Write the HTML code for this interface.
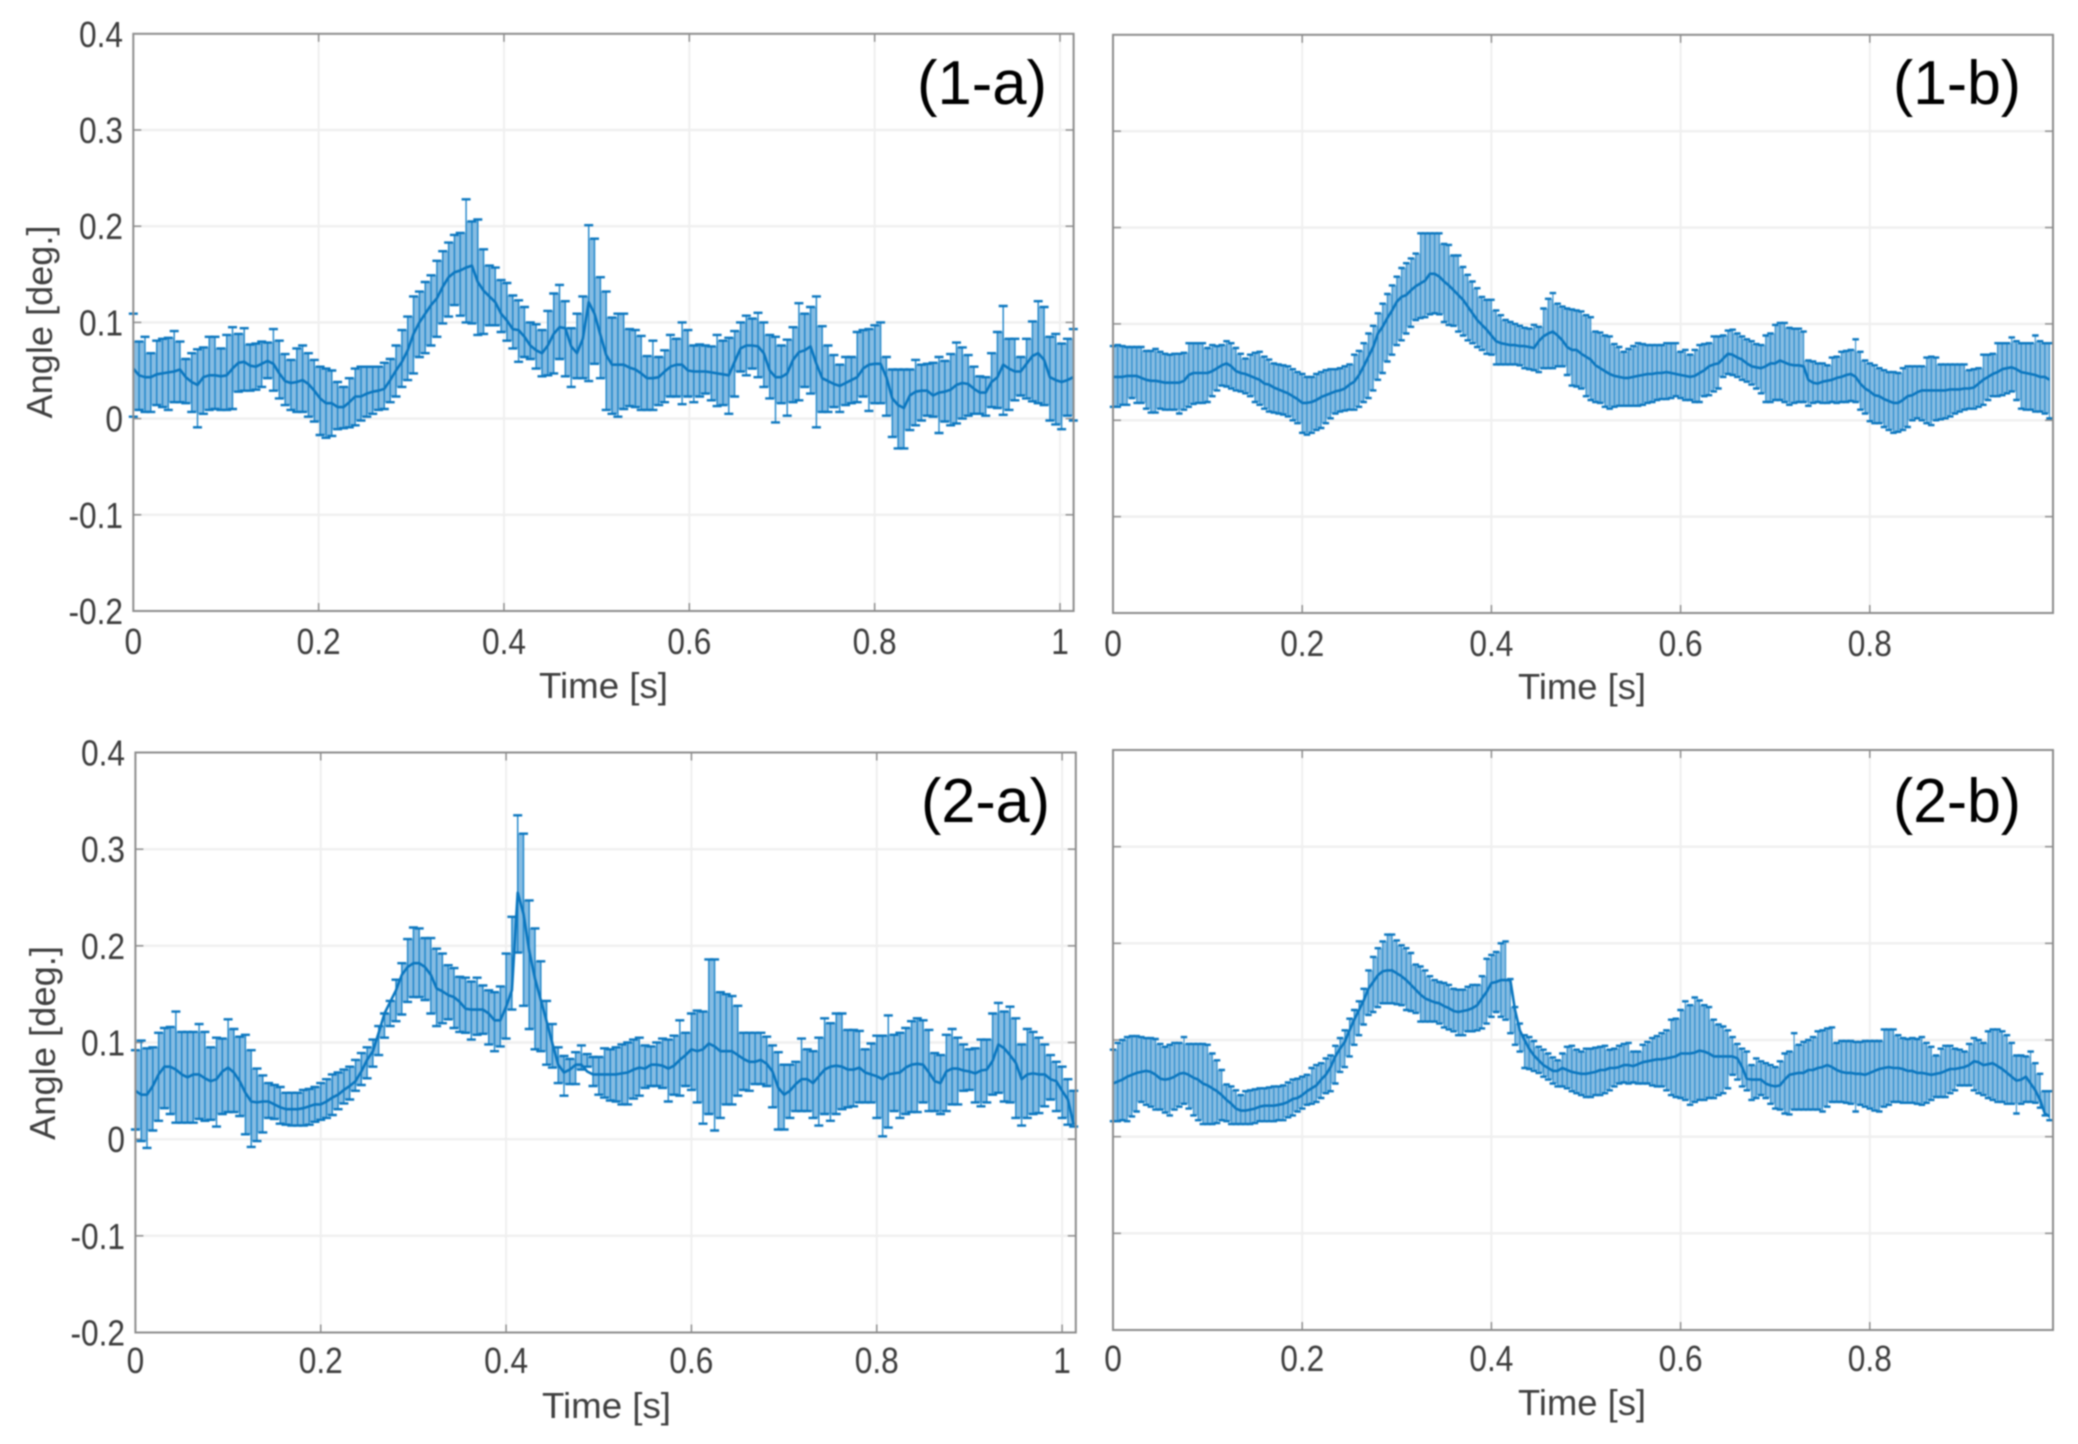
<!DOCTYPE html>
<html lang="en">
<head>
<meta charset="utf-8">
<title>Angle versus time error-bar charts</title>
<style>
html,body{margin:0;padding:0;background:#fff;}
body{width:2078px;height:1444px;overflow:hidden;}
#figure{display:block;filter:blur(0.7px);}
text{font-family:"Liberation Sans",Arial,sans-serif;}
.tick-label{font-size:36px;fill:#3c3c3c;}
.axis-title{font-size:36px;fill:#3f3f3f;}
.panel-label{font-size:62px;fill:#000;}
</style>
</head>
<body>
<svg id="figure" xmlns="http://www.w3.org/2000/svg" width="2078" height="1444" viewBox="0 0 2078 1444">
  <rect x="0" y="0" width="2078" height="1444" fill="#fff"/>
  <g id="plots"></g>
  <text class="panel-label" x="917" y="104" textLength="130" lengthAdjust="spacingAndGlyphs">(1-a)</text>
  <text class="panel-label" x="1893" y="104" textLength="128" lengthAdjust="spacingAndGlyphs">(1-b)</text>
  <text class="panel-label" x="921" y="822" textLength="129" lengthAdjust="spacingAndGlyphs">(2-a)</text>
  <text class="panel-label" x="1893" y="822" textLength="128" lengthAdjust="spacingAndGlyphs">(2-b)</text>
  <text class="axis-title" x="539" y="698" textLength="129" lengthAdjust="spacingAndGlyphs">Time [s]</text>
  <text class="axis-title" x="1518" y="699" textLength="128" lengthAdjust="spacingAndGlyphs">Time [s]</text>
  <text class="axis-title" x="542" y="1418" textLength="129" lengthAdjust="spacingAndGlyphs">Time [s]</text>
  <text class="axis-title" x="1518" y="1415" textLength="128" lengthAdjust="spacingAndGlyphs">Time [s]</text>
  <text class="axis-title" transform="translate(52,322) rotate(-90)" text-anchor="middle" textLength="193" lengthAdjust="spacingAndGlyphs">Angle [deg.]</text>
  <text class="axis-title" transform="translate(55,1043) rotate(-90)" text-anchor="middle" textLength="194" lengthAdjust="spacingAndGlyphs">Angle [deg.]</text>
</svg>
<script>
// All series values are angles in thousandths of a degree.
const yTickLabels = ['0.4','0.3','0.2','0.1','0','-0.1','-0.2'];
const xTickLabelsA = ['0','0.2','0.4','0.6','0.8','1'];
const xTickLabelsB = ['0','0.2','0.4','0.6','0.8'];

const sampleStepA1 = 0.0063;
const sampleStepA2 = 0.00625;
const sampleStepB = 0.005;

const upper1a = [109,80,85,68,81,83,84,91,80,62,68,72,74,85,85,73,87,95,88,94,77,78,80,79,93,81,67,61,73,76,68,61,54,52,50,38,33,42,52,54,54,54,54,58,62,76,92,106,127,132,142,149,164,174,183,191,193,228,205,207,176,159,157,144,141,128,123,116,100,98,92,112,130,139,122,94,109,127,201,187,147,
132,105,109,109,93,92,86,65,81,64,71,87,83,100,92,76,77,76,75,87,81,84,91,100,107,104,110,100,87,85,76,82,95,120,109,116,127,96,76,66,56,64,64,90,92,93,97,100,64,51,51,51,51,61,56,57,58,64,60,67,79,74,66,54,44,43,68,90,117,83,83,64,83,101,122,116,85,88,78,83,93];
const mean1a = [52,45,43,43,46,47,48,49,51,43,38,35,43,45,45,44,45,52,58,59,55,54,57,60,57,47,39,37,38,40,36,29,21,16,16,12,12,17,23,23,26,28,29,31,40,50,59,71,88,100,109,118,125,137,147,152,154,157,159,142,133,127,121,109,102,93,92,85,76,71,68,76,88,95,94,75,68,83,121,109,87,
66,56,56,56,53,51,47,42,42,43,49,54,56,56,50,49,49,49,48,47,46,45,59,73,76,76,75,68,50,43,43,47,61,69,71,75,57,42,39,36,34,37,40,43,52,56,57,57,43,21,14,11,24,28,29,29,24,27,28,30,35,37,36,31,27,27,38,43,56,52,49,49,57,65,68,61,43,40,38,40,43];
const lower1a = [2,9,7,7,14,12,9,17,17,16,7,-9,5,9,10,9,9,10,28,29,29,30,33,42,29,21,14,9,7,7,2,-3,-17,-20,-18,-11,-10,-9,-7,-2,2,5,9,10,17,23,33,40,47,64,68,76,85,99,106,118,107,100,99,87,88,97,97,90,81,73,59,64,62,52,44,45,47,62,44,33,42,42,39,57,42,
9,5,2,10,13,12,9,9,9,14,17,23,23,15,23,17,23,26,19,13,14,5,23,49,45,52,43,33,21,-4,16,3,17,19,33,26,-9,7,7,12,7,14,16,17,23,8,16,16,3,-19,-31,-31,-12,-7,-2,3,2,-15,-3,-7,-5,0,3,5,5,3,12,11,4,9,19,24,21,18,16,14,-2,-6,-11,3,-2];

const upper1b = [77,78,77,76,76,76,76,72,72,74,71,69,68,69,69,70,80,80,80,80,75,78,77,78,82,80,75,69,64,68,70,71,66,63,59,58,57,56,53,50,48,45,45,48,50,52,53,53,54,56,58,68,72,80,90,98,111,121,131,140,149,158,163,168,173,194,194,194,194,194,183,182,171,171,159,151,144,137,128,125,125,114,109,104,102,100,98,96,95,99,97,116,126,132,121,118,116,115,114,113,109,107,92,91,88,87,79,76,71,74,77,80,79,78,78,78,78,80,80,80,71,73,68,73,78,79,80,87,87,88,93,94,90,87,84,82,79,78,88,90,99,101,101,96,95,95,92,62,61,59,59,57,65,66,71,72,73,84,71,62,59,57,54,52,50,50,49,54,56,56,56,56,65,66,65,58,58,58,58,58,58,52,53,54,68,68,69,80,80,80,86,82,80,80,80,88,82,80,80];
const mean1b = [45,45,45,46,46,46,44,42,41,41,40,39,39,39,39,41,47,49,49,49,49,51,54,57,59,56,51,49,48,46,44,42,38,37,34,32,30,28,25,22,18,18,19,21,24,26,28,30,31,33,37,40,47,56,66,76,90,97,106,114,123,128,130,135,139,142,145,152,152,149,144,140,135,130,125,118,111,104,99,94,88,82,80,79,78,78,77,77,76,75,82,87,90,92,88,83,76,73,73,69,66,63,57,54,51,48,46,45,44,44,45,46,47,48,48,49,49,50,49,48,47,46,45,46,49,52,56,58,59,64,69,68,65,63,59,56,55,54,56,59,59,62,60,58,57,57,56,42,39,38,40,41,42,44,45,47,48,45,38,33,30,26,25,22,20,18,18,21,25,26,29,31,31,31,31,31,31,32,32,32,33,33,34,38,42,45,48,50,53,54,55,53,50,49,48,47,45,45,42];
const lower1b = [14,14,16,16,23,18,18,12,8,8,12,11,11,11,7,11,14,17,18,18,19,25,31,36,35,33,31,30,28,25,19,16,12,9,8,7,6,4,0,-3,-13,-15,-13,-10,-8,-3,2,7,9,10,11,11,14,19,23,31,42,49,61,68,78,83,90,97,104,106,107,110,111,110,102,99,98,92,88,83,80,76,73,69,68,58,58,58,58,58,57,54,53,52,50,54,54,54,56,56,47,36,35,33,25,21,19,18,14,12,14,15,15,15,15,15,16,18,19,21,22,22,23,25,23,21,21,19,19,25,26,30,33,45,48,47,45,42,40,37,33,28,19,19,21,21,19,16,18,19,19,15,18,19,18,18,19,18,19,19,20,19,11,7,-1,-3,-3,-7,-10,-13,-12,-10,-7,0,2,0,-3,-5,0,1,2,4,7,9,11,12,12,14,16,21,25,25,26,28,30,21,12,11,11,9,9,7,2];

const upper2a = [92,102,94,95,110,115,116,132,111,111,111,119,111,95,105,104,124,114,106,108,92,73,66,58,56,54,48,48,48,51,52,54,58,62,67,69,72,75,82,89,95,103,117,130,143,165,182,207,219,218,208,208,197,192,180,177,168,167,163,167,159,154,152,158,192,230,335,316,247,218,184,143,119,95,86,83,90,97,88,85,85,94,
93,95,98,100,103,105,97,96,100,104,103,107,123,110,130,133,132,186,186,152,150,148,138,110,110,110,110,106,97,90,77,77,80,104,93,91,105,125,120,130,130,113,113,112,93,99,107,107,128,108,110,115,122,125,123,113,89,87,108,114,105,98,93,94,103,103,130,141,132,137,125,98,114,111,105,98,87,80,75,62,50];
const mean2a = [50,46,46,55,67,75,75,72,67,64,67,67,63,60,62,70,74,69,60,48,39,38,39,39,36,33,31,31,31,32,34,36,36,39,43,46,51,55,60,70,82,91,110,130,142,154,170,178,182,182,178,170,156,153,149,147,142,135,134,134,134,130,123,123,137,154,255,233,195,166,144,122,99,77,69,72,77,77,70,67,67,67,
67,67,68,69,72,74,73,77,77,76,73,76,82,87,93,91,93,99,96,91,91,91,87,83,80,80,82,78,70,53,46,50,57,62,62,58,65,72,75,76,75,72,72,74,69,67,65,62,67,68,69,74,77,78,77,69,60,58,70,73,73,71,70,68,71,72,81,98,94,87,79,62,67,68,67,67,62,60,50,41,15];
const lower2a = [10,-2,-9,9,19,32,26,17,17,17,17,21,19,20,13,26,28,28,24,5,-8,-2,7,22,21,16,15,14,14,14,15,18,20,22,25,31,37,41,50,56,63,75,87,105,117,122,129,142,147,147,144,130,117,120,124,115,111,110,103,108,109,98,91,96,104,134,193,138,114,93,91,77,74,58,45,57,57,72,75,55,46,43,
40,39,36,36,42,45,53,55,55,53,39,46,45,55,51,38,16,26,9,22,36,36,45,51,50,57,57,55,33,10,10,22,29,29,29,22,14,26,19,26,31,33,34,38,38,38,22,3,12,29,22,26,28,28,38,29,29,26,29,36,36,50,51,38,34,38,46,48,39,38,22,14,22,26,27,34,41,29,22,15,13];

const upper2b = [90,97,100,103,104,104,103,102,102,101,96,93,95,97,97,103,96,96,96,96,95,86,79,69,54,52,48,43,47,48,49,50,50,51,52,52,53,56,59,60,62,64,71,74,76,81,84,94,102,110,122,131,140,153,172,186,195,202,209,209,203,198,195,190,178,176,172,166,162,160,159,157,153,152,152,155,157,157,166,184,188,191,200,202,163,134,117,105,103,99,93,90,86,82,79,86,93,94,90,88,91,91,92,93,94,90,91,94,96,97,88,88,95,98,102,104,107,110,121,122,131,140,136,144,141,136,134,121,116,114,110,103,96,91,88,74,81,78,76,74,72,78,86,88,107,95,98,100,103,109,110,112,113,97,99,99,99,98,98,99,99,99,99,111,111,111,105,102,101,102,101,103,97,93,84,91,94,94,91,90,88,96,102,100,97,109,111,111,109,105,97,84,84,83,88,76,65,47,47];
const mean2b = [55,57,59,62,64,66,67,68,67,64,60,59,60,62,65,66,64,61,59,55,53,50,47,43,38,34,29,27,27,28,29,31,32,32,32,33,34,36,39,40,43,47,50,53,59,64,72,83,91,98,110,121,131,141,153,160,167,171,172,172,169,166,162,157,152,147,143,141,139,138,135,133,130,129,130,131,133,136,143,150,159,160,162,162,162,131,110,100,91,84,79,74,71,68,68,71,69,67,66,65,65,66,67,69,69,71,71,72,74,74,73,75,77,78,79,80,80,81,82,83,86,86,86,87,89,88,86,83,83,83,83,83,81,72,60,59,59,59,55,53,52,53,59,64,65,66,66,69,69,71,72,74,72,69,67,66,66,65,65,64,66,68,70,71,72,71,71,70,68,68,66,66,65,64,65,66,68,70,70,71,72,74,78,77,74,75,76,73,70,66,62,58,59,62,55,48,38,24,21];
const lower2b = [16,16,17,16,21,26,36,33,31,28,28,25,22,28,31,34,29,22,17,13,13,13,14,17,16,13,13,13,13,13,14,16,16,16,16,17,17,20,22,26,29,33,34,36,40,45,47,55,67,72,83,95,105,116,126,129,134,138,138,138,137,136,131,130,128,119,119,119,119,117,113,111,109,105,105,109,109,110,112,117,124,129,124,121,107,95,88,71,70,68,66,62,59,55,52,52,50,47,45,43,41,41,43,43,45,48,52,55,56,55,56,55,55,55,53,52,52,48,43,41,40,38,33,36,38,38,40,40,43,45,50,64,59,52,48,38,40,43,40,34,29,28,24,23,28,28,28,28,28,28,26,31,36,36,36,35,34,26,33,31,29,27,26,31,33,36,36,35,35,35,34,33,35,38,41,41,41,45,48,53,53,53,48,45,43,40,38,36,36,34,34,24,34,36,36,35,30,22,17];

const SVG_NS = 'http://www.w3.org/2000/svg';
const plotsRoot = document.getElementById('plots');

const panels = [
  {id:'1a', left:133.3, right:1073.6, top:33.8, bottom:611, pxPerSecond:926.7, step:sampleStepA1, upper:upper1a, mean:mean1a, lower:lower1a, xTicks:xTickLabelsA, showY:true, yLabelRight:123, xLabelBase:654, cap:9, stemWidth:1.4},
  {id:'1b', left:1113, right:2053, top:34.8, bottom:613, pxPerSecond:946, step:sampleStepB, upper:upper1b, mean:mean1b, lower:lower1b, xTicks:xTickLabelsB, showY:false, yLabelRight:0, xLabelBase:656, cap:6.5, stemWidth:1},
  {id:'2a', left:135.4, right:1075.8, top:752.5, bottom:1332.5, pxPerSecond:926.7, step:sampleStepA2, upper:upper2a, mean:mean2a, lower:lower2a, xTicks:xTickLabelsA, showY:true, yLabelRight:125, xLabelBase:1373, cap:9, stemWidth:1.4},
  {id:'2b', left:1113, right:2053, top:750, bottom:1330, pxPerSecond:946, step:sampleStepB, upper:upper2b, mean:mean2b, lower:lower2b, xTicks:xTickLabelsB, showY:false, yLabelRight:0, xLabelBase:1371, cap:6.5, stemWidth:1}
];

function makeX(p){ return function(t){ return p.left + t * p.pxPerSecond; }; }
function makeY(p){ return function(v){ return p.bottom - (v + 0.2) / 0.6 * (p.bottom - p.top); }; }
function labelWidth(s){
  let w = 0;
  for (const c of s) { w += c === '.' ? 0.278 : c === '-' ? 0.333 : 0.556; }
  return w * 34 * 0.93;
}
function svgEl(tag, attrs){
  const el = document.createElementNS(SVG_NS, tag);
  for (const k in attrs) { el.setAttribute(k, attrs[k]); }
  return el;
}

panels.forEach(function(p){
  const x = makeX(p);
  const y = makeY(p);
  const group = svgEl('g', {});
  
  
  plotsRoot.appendChild(group);

  const bg = svgEl('rect', {x:p.left, y:p.top, width:p.right - p.left, height:p.bottom - p.top, fill:'#fff'});
  
  
  group.appendChild(bg);

  yTickLabels.forEach(function(lab){
    const v = Number(lab);
    const yy = y(v);
    if (lab !== '0.4' && lab !== '-0.2') {
      const grid = svgEl('line', {x1:p.left, x2:p.right, y1:yy, y2:yy, stroke:'#efefef', 'stroke-width':2.4});
      
      
      group.appendChild(grid);
    }
    [[p.left, p.left + 8], [p.right, p.right - 8]].forEach(function(seg){
      const tick = svgEl('line', {x1:seg[0], x2:seg[1], y1:yy, y2:yy, stroke:'#8a8a8a', 'stroke-width':1.4});
      
      
      group.appendChild(tick);
    });
    if (p.showY) {
      const t = svgEl('text', {x:p.yLabelRight, y:yy + 13, 'text-anchor':'end', class:'tick-label', textLength:labelWidth(lab).toFixed(1), lengthAdjust:'spacingAndGlyphs'});
      
      
      t.textContent = lab;
      group.appendChild(t);
    }
  });

  p.xTicks.forEach(function(lab){
    const v = Number(lab);
    const xx = x(v);
    if (v !== 0) {
      const grid = svgEl('line', {x1:xx, x2:xx, y1:p.top, y2:p.bottom, stroke:'#efefef', 'stroke-width':2});
      
      
      group.appendChild(grid);
    }
    [[p.bottom, p.bottom - 8], [p.top, p.top + 8]].forEach(function(seg){
      const tick = svgEl('line', {x1:xx, x2:xx, y1:seg[0], y2:seg[1], stroke:'#8a8a8a', 'stroke-width':1.4});
      
      
      group.appendChild(tick);
    });
    const t = svgEl('text', {x:xx, y:p.xLabelBase, 'text-anchor':'middle', class:'tick-label', textLength:labelWidth(lab).toFixed(1), lengthAdjust:'spacingAndGlyphs'});
    
    
    t.textContent = lab;
    group.appendChild(t);
  });

  const count = Math.min(p.upper.length, p.mean.length, p.lower.length);
  const sampleX = function(i){ return x(i * p.step); };
  const hi = function(i){ return y(p.upper[i] / 1000); };
  const lo = function(i){ return y(p.lower[i] / 1000); };

  let bandPath = '';
  for (let i = 0; i < count - 1; i++) {
    const top = Math.max(hi(i), hi(i + 1));
    const bot = Math.min(lo(i), lo(i + 1));
    if (bot > top) {
      bandPath += 'M' + sampleX(i).toFixed(1) + ' ' + top.toFixed(1) + 'H' + sampleX(i + 1).toFixed(1) + 'V' + bot.toFixed(1) + 'H' + sampleX(i).toFixed(1) + 'Z';
    }
  }
  const band = svgEl('path', {d:bandPath, fill:'#86bce2', stroke:'none'});
  
  
  group.appendChild(band);

  for (let i = 0; i < count; i++) {
    const xx = sampleX(i);
    const half = p.cap / 2;
    const stemPath = 'M' + xx.toFixed(1) + ' ' + hi(i).toFixed(1) + 'V' + lo(i).toFixed(1);
    const capPath = 'M' + (xx - half).toFixed(1) + ' ' + hi(i).toFixed(1) + 'H' + (xx + half).toFixed(1) +
      'M' + (xx - half).toFixed(1) + ' ' + lo(i).toFixed(1) + 'H' + (xx + half).toFixed(1);
    const bar = svgEl('path', {d:stemPath, fill:'none', stroke:'#1b83c8', 'stroke-width':p.stemWidth});
    
    
    group.appendChild(bar);
    const caps = svgEl('path', {d:capPath, fill:'none', stroke:'#0a76bf', 'stroke-width':2.4});
    
    
    group.appendChild(caps);
  }

  const pts = [];
  for (let i = 0; i < count; i++) { pts.push(sampleX(i).toFixed(1) + ',' + y(p.mean[i] / 1000).toFixed(1)); }
  const meanLine = svgEl('polyline', {points:pts.join(' '), fill:'none', stroke:'#0a76bf', 'stroke-width':2.6, 'stroke-linejoin':'round'});
  
  
  group.appendChild(meanLine);

  const frame = svgEl('rect', {x:p.left, y:p.top, width:p.right - p.left, height:p.bottom - p.top, fill:'none', stroke:'#8c8c8c', 'stroke-width':2});
  
  
  group.appendChild(frame);
});
</script>
</body>
</html>
